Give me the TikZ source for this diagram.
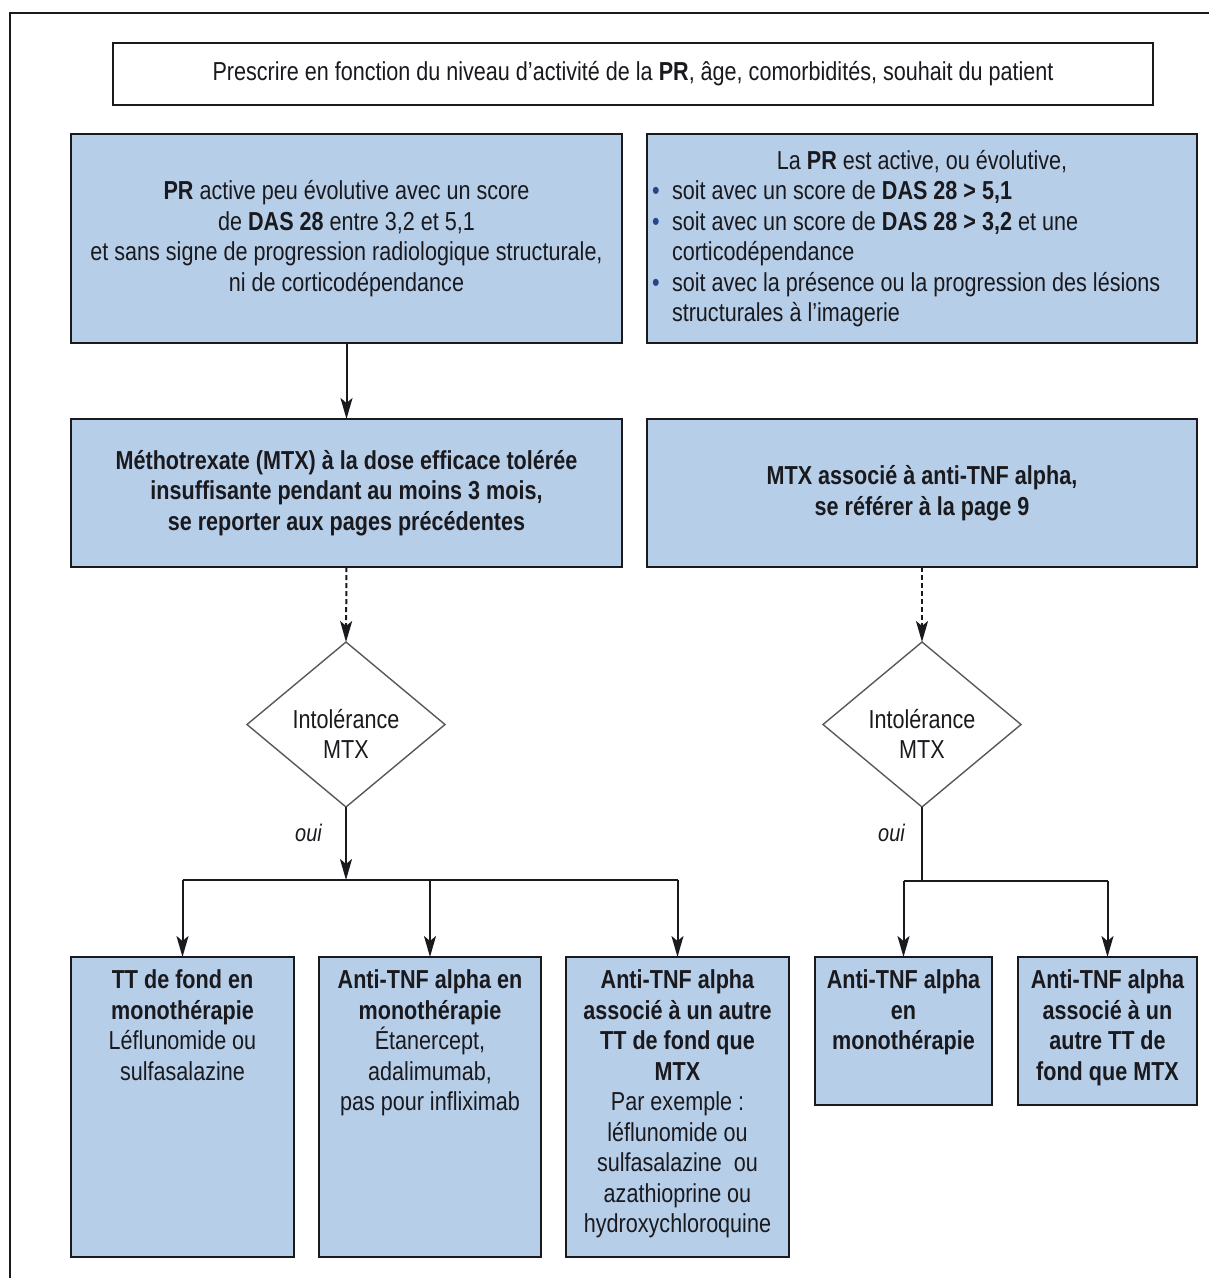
\documentclass[tikz,border=0pt]{standalone}
\usepackage{fontspec}
\usepackage{graphicx}
\setmainfont{Liberation Sans}[FakeStretch=0.83]
\usetikzlibrary{shapes.geometric,arrows.meta}
\definecolor{boxblue}{RGB}{182,206,232}
\definecolor{bulblue}{RGB}{35,70,140}
\definecolor{ink}{RGB}{25,25,30}
\newcommand{\bul}{\makebox[15pt][l]{\hspace*{-5pt}\textcolor{bulblue}{•}}}
\begin{document}
\begin{tikzpicture}[x=1pt,y=-1pt,
  every node/.style={font=\fontsize{26}{30.5}\selectfont, text=ink},
  bluebox/.style={draw=ink, line width=2.2pt, fill=boxblue, inner sep=0pt, outer sep=0pt, anchor=north west, align=center},
  whitebox/.style={draw=ink, line width=2pt, fill=white, inner sep=0pt, outer sep=0pt, anchor=north west, align=center},
  txt/.style={inner sep=0pt, outer sep=0pt, align=center},
  boldtxt/.style={txt, font=\fontsize{26}{30.5}\selectfont\bfseries},
  dia/.style={diamond, draw=black!65, line width=1.4pt, fill=white, inner sep=0pt, outer sep=0pt, minimum width=198pt, minimum height=165pt},
  arr/.style={-{Stealth[length=21pt,width=12pt,inset=5pt]}, line width=2pt, draw=ink},
  darr/.style={arr, dash pattern=on 5pt off 3pt},
  conn/.style={line width=2pt, draw=ink},
  ouitxt/.style={inner sep=0pt, font=\fontsize{24}{26}\selectfont\itshape}
]
\useasboundingbox (0,0) rectangle (1209,1278);
% outer frame (top and left edges of the scanned page)
\draw[line width=2.4pt, ink] (10,1282) -- (10,13) -- (1212,13);

% top box
\node[whitebox, minimum width=1040pt, minimum height=62pt] (top) at (113,43)
  {Prescrire en fonction du niveau d'activité de la \textbf{PR}, âge, comorbidités, souhait du patient};

% row 1
\node[bluebox, minimum width=551pt, minimum height=209pt] (b1) at (71,134)
  {\textbf{PR} active peu évolutive avec un score\\
   de \textbf{DAS 28} entre 3,2 et 5,1\\
   et sans signe de progression radiologique structurale,\\
   ni de corticodépendance};
\node[bluebox, minimum width=550pt, minimum height=209pt, text width=530pt, inner xsep=10pt, align=left] (b2) at (647,134)
  {\spaceskip=0pt\xspaceskip=0pt
   \makebox[530pt][c]{La \textbf{PR} est active, ou évolutive,}\\
   \bul soit avec un score de \textbf{DAS 28 > 5,1}\\
   \bul soit avec un score de \textbf{DAS 28 > 3,2} et une\\
   \hspace*{15pt}corticodépendance\\
   \bul soit avec la présence ou la progression des lésions\\
   \hspace*{15pt}structurales à l'imagerie};

% row 2
\node[bluebox, minimum width=551pt, minimum height=148pt, font=\fontsize{26}{30.5}\selectfont\bfseries] (b3) at (71,419)
  {Méthotrexate (MTX) à la dose efficace tolérée\\
   insuffisante pendant au moins 3 mois,\\
   se reporter aux pages précédentes};
\node[bluebox, minimum width=550pt, minimum height=148pt, font=\fontsize{26}{30.5}\selectfont\bfseries] (b4) at (647,419)
  {MTX associé à anti-TNF alpha,\\
   se référer à la page 9};

% diamonds
\node[dia] (d1) at (346,724.5) {};
\node[txt] (d1t) at (346,734) {Intolérance\\MTX};
\node[dia] (d2) at (922,724.5) {};
\node[txt] (d2t) at (922,734) {Intolérance\\MTX};

% bottom boxes
\node[bluebox, minimum width=223pt, minimum height=300pt] (b5) at (71,957) {};
\node[bluebox, minimum width=222pt, minimum height=300pt] (b6) at (319,957) {};
\node[bluebox, minimum width=223pt, minimum height=300pt] (b7) at (566,957) {};
\node[bluebox, minimum width=177pt, minimum height=148pt] (b8) at (815,957) {};
\node[bluebox, minimum width=179pt, minimum height=148pt] (b9) at (1018,957) {};

\node[txt, anchor=north] (b5t) at ([yshift=-13pt]b5.north)
  {\textbf{TT de fond en}\\ \textbf{monothérapie}\\ Léflunomide ou\\ sulfasalazine};
\node[txt, anchor=north] (b6t) at ([yshift=-13pt]b6.north)
  {\textbf{Anti-TNF alpha en}\\ \textbf{monothérapie}\\ Étanercept,\\ adalimumab,\\ pas pour infliximab};
\node[txt, anchor=north] (b7t) at ([yshift=-13pt]b7.north)
  {\textbf{Anti-TNF alpha}\\ \textbf{associé à un autre}\\ \textbf{TT de fond que}\\ \textbf{MTX}\\
   Par exemple :\\ léflunomide ou\\ sulfasalazine\ \ ou\\ azathioprine ou\\ hydroxychloroquine};
\node[boldtxt, anchor=north] (b8t) at ([yshift=-13pt]b8.north)
  {Anti-TNF alpha\\ en\\ monothérapie};
\node[boldtxt, anchor=north] (b9t) at ([yshift=-13pt]b9.north)
  {Anti-TNF alpha\\ associé à un\\ autre TT de\\ fond que MTX};

% junction points
\coordinate (j1) at (346,880);
\coordinate (j2) at (922,881);

% connectors
\draw[arr] (b1.south) -- (b3.north);
\draw[darr] (b3.south) -- (d1.north);
\draw[darr] (b4.south) -- (d2.north);

\draw[arr] (d1.south) -- (j1);
\draw[conn] (b5.north |- j1) -- (b7.north |- j1);
\draw[arr] (b5.north |- j1) -- (b5.north);
\draw[arr] (b6.north |- j1) -- (b6.north);
\draw[arr] (b7.north |- j1) -- (b7.north);

\draw[conn] (d2.south) -- (j2);
\draw[conn] (b8.north |- j2) -- (b9.north |- j2);
\draw[arr] (b8.north |- j2) -- (b8.north);
\draw[arr] (b9.north |- j2) -- (b9.north);

% labels
\node[ouitxt, anchor=east] (oui1) at (322,833) {oui};
\node[ouitxt, anchor=east] (oui2) at (905,833) {oui};
\end{tikzpicture}
\end{document}
